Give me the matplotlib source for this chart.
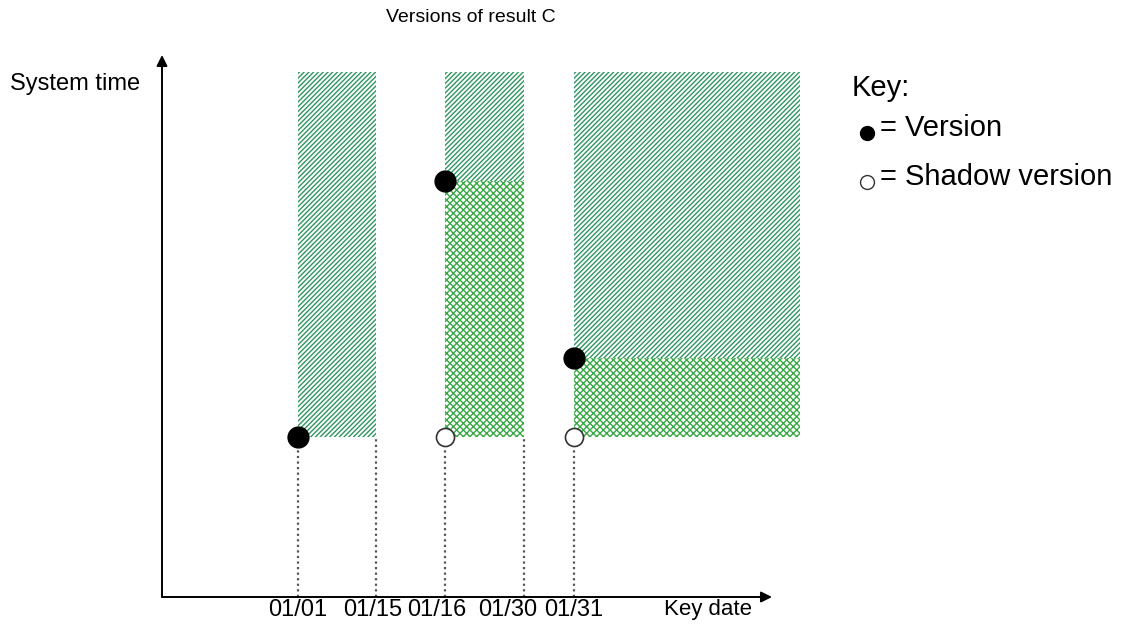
import matplotlib
matplotlib.use("Agg")
import matplotlib.pyplot as plt
from matplotlib.patches import Rectangle

plt.rcParams['font.family'] = ['Liberation Sans', 'DejaVu Sans']

# ---- data (axis units) ----
key_dates = ['01/01', '01/15', '01/16', '01/30', '01/31']
key_x = [136, 214, 283, 362, 412]          # key-date positions on the key-date axis
range_end = 638                             # open-ended last key range
sys_times = {'t1': 160, 't2': 239, 't3': 416}
sys_now = 525                               # current system time (top)

# ranges: (start key, end key, shadow time or None, version time)
ranges_start = [key_x[0], key_x[2], key_x[4]]
ranges_end = [key_x[1], key_x[3], range_end]
ranges_shadow = [None, sys_times['t1'], sys_times['t1']]
ranges_version = [sys_times['t1'], sys_times['t3'], sys_times['t2']]

W, H = 1140, 628
fig = plt.figure(figsize=(W / 100, H / 100), dpi=100)
ax = fig.add_axes([0, 0, 1, 1])
ox, oy = 162, 597
ax.set_xlim(-ox, W - ox)
ax.set_ylim(-(H - oy), oy)
ax.axis('off')

plt.rcParams['hatch.linewidth'] = 1.0
diag_col = '#2f9560'
cross_col = '#3aa846'

for x0, x1, ts, tv in zip(ranges_start, ranges_end, ranges_shadow, ranges_version):
    ax.add_patch(Rectangle((x0, tv), x1 - x0, sys_now - tv, facecolor='white',
                           edgecolor=diag_col, hatch='///////', lw=0, zorder=1))
    if ts is not None:
        ax.add_patch(Rectangle((x0, ts), x1 - x0, tv - ts, facecolor='white',
                               edgecolor=cross_col, hatch='xxxxx', lw=0, zorder=1))

# dotted drop lines
for x in key_x:
    ax.plot([x, x], [0, sys_times['t1']], ls=(0, (1, 1.5)), color='#555555', lw=1.6, zorder=2)

# versions and shadow versions
for x0, ts, tv in zip(ranges_start, ranges_shadow, ranges_version):
    ax.plot(x0, tv, 'o', ms=15, color='black', zorder=4)
    if ts is not None:
        ax.plot(x0, ts, 'o', ms=13, mfc='white', mec='#333333', mew=1.2, zorder=4)

# axes arrows
ax.annotate('', xy=(0, 542), xytext=(0, 0),
            arrowprops=dict(arrowstyle='-|>', mutation_scale=16, lw=1.4, color='black', shrinkA=0, shrinkB=0))
ax.annotate('', xy=(610, 0), xytext=(0, 0),
            arrowprops=dict(arrowstyle='-|>', mutation_scale=16, lw=1.4, color='black', shrinkA=0, shrinkB=0))

# tick labels (nudged left where crowded, as in the reference)
label_nudge = [0, -3, -8, -16, 0]
for x, lab, dx in zip(key_x, key_dates, label_nudge):
    ax.text(x + dx, -13, lab, ha='center', va='center', fontsize=17)

def px(x, y):
    return x - ox, oy - y

ax.text(*px(664, 610), 'Key date', ha='left', va='center', fontsize=16)
ax.text(*px(10, 84), 'System time', ha='left', va='center', fontsize=17)
ax.text(*px(471, 18), 'Versions of result C', ha='center', va='center', fontsize=14)

# key
ax.text(*px(852, 88), 'Key:', ha='left', va='center', fontsize=21)
ax.plot(*px(867, 133), 'o', ms=10, color='black')
ax.text(*px(880, 128), '= Version', ha='left', va='center', fontsize=21)
ax.plot(*px(867, 182), 'o', ms=10, mfc='white', mec='#333333', mew=1)
ax.text(*px(880, 177), '= Shadow version', ha='left', va='center', fontsize=21)

fig.savefig('out.png', dpi=100, facecolor='white')
